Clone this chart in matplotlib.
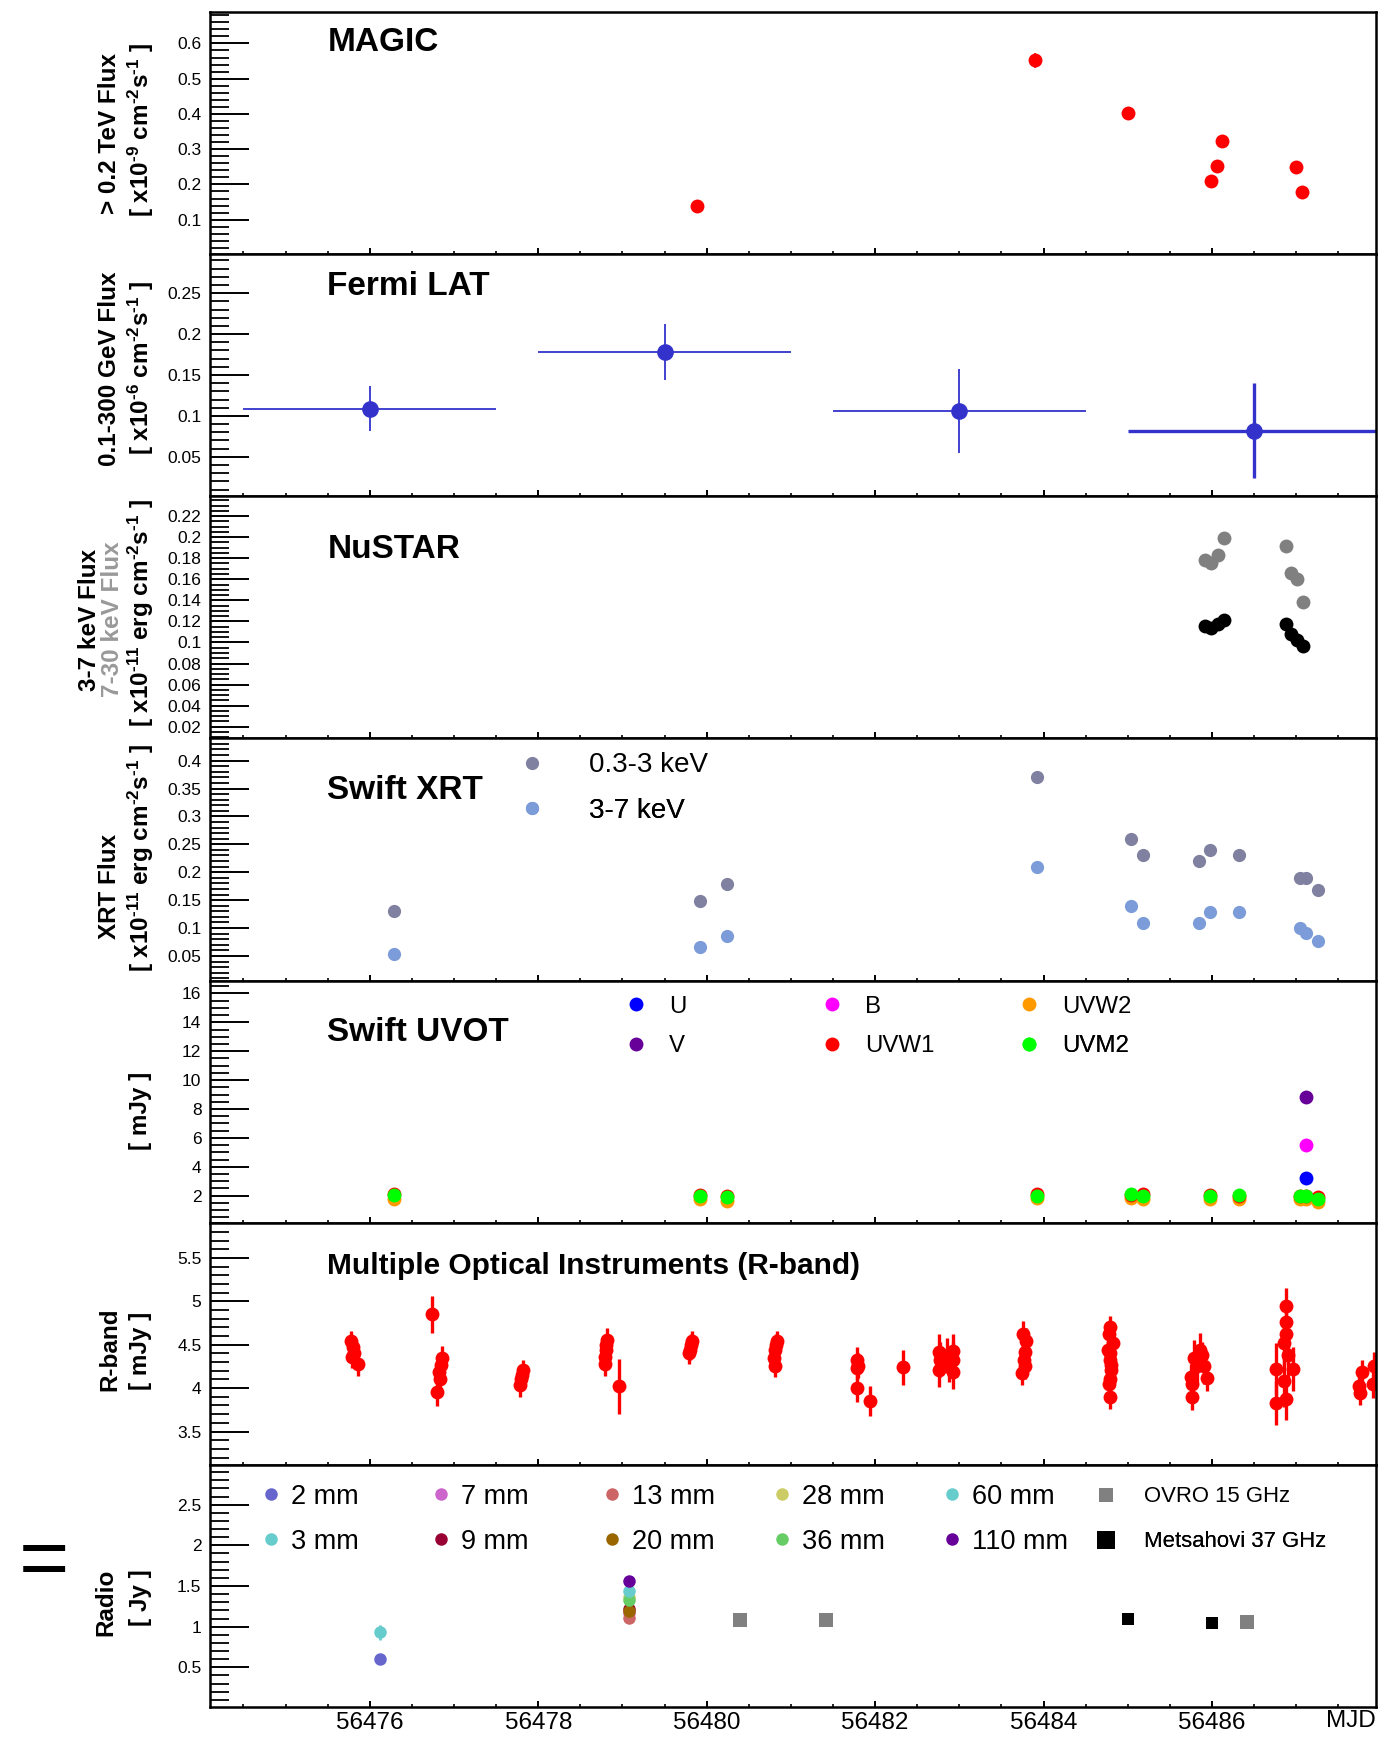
import matplotlib

matplotlib.use("Agg")

import matplotlib.pyplot as plt
from matplotlib.lines import Line2D
from matplotlib.ticker import MultipleLocator, FuncFormatter

plt.rcParams["font.family"] = ["Liberation Sans", "DejaVu Sans"]
plt.rcParams["mathtext.fontset"] = "custom"
plt.rcParams["mathtext.rm"] = "Liberation Sans:bold"
plt.rcParams["mathtext.it"] = "Liberation Sans:bold"
plt.rcParams["mathtext.bf"] = "Liberation Sans:bold"

# ---------------- data ----------------
magic_mjd = [56479.89, 56483.90, 56485.00, 56485.99, 56486.06, 56486.12, 56487.00, 56487.07]
magic_flux = [0.139, 0.552, 0.402, 0.209, 0.253, 0.324, 0.250, 0.179]
magic_err = [0.010, 0.022, 0.010, 0.010, 0.010, 0.010, 0.010, 0.010]

fermi_mjd = [56476.0, 56479.5, 56483.0, 56486.5]
fermi_halfbin = [1.5, 1.5, 1.5, 1.5]
fermi_flux = [0.109, 0.178, 0.106, 0.082]
fermi_err = [0.027, 0.034, 0.051, 0.058]

nustar_mjd = [56485.92, 56485.99, 56486.07, 56486.14, 56486.88, 56486.94, 56487.01, 56487.08]
nustar_3_7 = [0.1154, 0.1142, 0.1180, 0.1211, 0.1173, 0.1085, 0.1022, 0.0968]
nustar_7_30 = [0.1783, 0.1755, 0.1827, 0.1995, 0.1912, 0.1663, 0.1606, 0.1388]

xrt_mjd = [56476.29, 56479.915, 56480.24, 56483.92, 56485.04, 56485.18,
           56485.84, 56485.98, 56486.32, 56487.04, 56487.12, 56487.26]
xrt_soft = [0.130, 0.149, 0.179, 0.370, 0.259, 0.230, 0.220, 0.240, 0.230, 0.190, 0.190, 0.169]
xrt_hard = [0.053, 0.066, 0.085, 0.209, 0.140, 0.109, 0.109, 0.129, 0.129, 0.100, 0.092, 0.076]

uvot_mjd = [56476.29, 56479.915, 56480.24, 56483.92, 56485.04, 56485.18,
            56485.98, 56486.32, 56487.04, 56487.12, 56487.26]
uvot_uvw2 = [1.80, 1.75, 1.65, 1.85, 1.85, 1.75, 1.80, 1.75, 1.80, 1.75, 1.55]
uvot_uvw1 = [2.10, 2.05, 1.95, 2.15, 2.05, 2.10, 2.05, 1.95, 1.95, 2.00, 1.90]
uvot_uvm2 = [2.05, 1.95, 1.90, 2.00, 2.10, 1.95, 2.00, 2.05, 2.00, 2.00, 1.80]
uvot_opt_mjd = [56487.12]
uvot_u = [3.20]
uvot_b = [5.50]
uvot_v = [8.85]

r_mjd = [56475.78, 56475.80, 56475.81, 56475.79, 56475.86,
         56476.74,
         56476.86, 56476.84, 56476.82, 56476.83, 56476.80,
         56477.82, 56477.81, 56477.80, 56477.78,
         56478.82, 56478.81, 56478.80, 56478.79, 56478.79,
         56478.96,
         56479.82, 56479.81, 56479.80, 56479.79,
         56480.83, 56480.82, 56480.81, 56480.80, 56480.81,
         56481.79, 56481.80, 56481.79, 56481.78, 56481.935,
         56482.33,
         56482.76, 56482.77, 56482.76, 56482.85, 56482.92, 56482.92, 56482.93, 56482.88,
         56483.76, 56483.79, 56483.78, 56483.77, 56483.78, 56483.75,
         56484.79, 56484.78, 56484.83, 56484.77, 56484.79, 56484.80, 56484.79,
         56484.78, 56484.79, 56484.80, 56484.79,
         56485.76, 56485.75, 56485.76, 56485.82, 56485.86, 56485.90, 56485.94, 56485.79, 56485.88,
         56486.88, 56486.88, 56486.88, 56486.86, 56486.76, 56486.96, 56486.76, 56486.88,
         56486.86, 56486.90,
         56487.76, 56487.78, 56487.75, 56487.92, 56487.91]
r_flux = [4.54, 4.48, 4.40, 4.36, 4.28,
          4.85,
          4.35, 4.27, 4.19, 4.10, 3.95,
          4.21, 4.15, 4.10, 4.04,
          4.56, 4.50, 4.44, 4.36, 4.28,
          4.02,
          4.54, 4.50, 4.44, 4.40,
          4.54, 4.50, 4.44, 4.35, 4.26,
          4.33, 4.26, 4.23, 4.00, 3.85,
          4.24,
          4.42, 4.33, 4.21, 4.38, 4.43, 4.33, 4.19, 4.27,
          4.62, 4.54, 4.42, 4.33, 4.25, 4.18,
          4.71, 4.63, 4.52, 4.44, 4.33, 4.21, 4.10,
          4.05, 3.90, 4.27, 4.40,
          3.90, 4.13, 4.05, 4.25, 4.44, 4.25, 4.12, 4.35, 4.38,
          4.95, 4.76, 4.62, 4.52, 4.22, 4.22, 3.83, 3.88,
          4.08, 4.38,
          3.94, 4.19, 4.02, 4.26, 4.05]
r_err = [0.12, 0.12, 0.12, 0.13, 0.14,
         0.21,
         0.14, 0.14, 0.14, 0.14, 0.16,
         0.12, 0.12, 0.12, 0.14,
         0.13, 0.13, 0.13, 0.14, 0.14,
         0.32,
         0.12, 0.12, 0.12, 0.12,
         0.12, 0.12, 0.12, 0.13, 0.13,
         0.14, 0.14, 0.14, 0.16, 0.17,
         0.20,
         0.20, 0.20, 0.20, 0.20, 0.20, 0.20, 0.20, 0.20,
         0.15, 0.15, 0.15, 0.15, 0.15, 0.14,
         0.12, 0.12, 0.12, 0.12, 0.12, 0.12, 0.12,
         0.13, 0.14, 0.12, 0.12,
         0.15, 0.15, 0.15, 0.20, 0.20, 0.20, 0.15, 0.20, 0.15,
         0.20, 0.20, 0.20, 0.25, 0.30, 0.25, 0.25, 0.25,
         0.30, 0.25,
         0.14, 0.14, 0.14, 0.16, 0.16]

radio_bands = ["2 mm", "3 mm", "7 mm", "9 mm", "13 mm", "20 mm", "28 mm", "36 mm", "60 mm", "110 mm"]
radio_colors = ["#6666CC", "#66CCCC", "#CC66CC", "#990033", "#CC6666",
                "#996600", "#CCCC66", "#66CC66", "#66CCCC", "#660099"]
radio_mjd = [[56476.12], [56476.12], [56479.08], [56479.08], [56479.08],
             [56479.08], [56479.08], [56479.08], [56479.08], [56479.08]]
radio_flux = [[0.60], [0.93], [1.17], [1.22], [1.11], [1.19], [1.36], [1.33], [1.44], [1.56]]
radio_err = [[0.02], [0.09], [0.02], [0.02], [0.02], [0.02], [0.02], [0.02], [0.02], [0.02]]
ovro_mjd = [56480.39, 56481.42, 56486.42]
ovro_flux = [1.08, 1.08, 1.06]
mets_mjd = [56485.00, 56486.00]
mets_flux = [1.095, 1.05]
mets_err = [0.04, 0.035]

# ---------------- layout ----------------
W, H = 1391, 1737
fig = plt.figure(figsize=(W / 100, H / 100), dpi=100)
left_px, right_px = 209.8, 1376.2
top_px, panel_px = 11.7, 242.2

XMIN, XMAX = 56474.1, 56487.95


def fmt_g(v, pos):
    return "%g" % round(v, 6)


def make_panel(i, ylim, major, minor):
    t = top_px + i * panel_px
    ax = fig.add_axes([left_px / W, 1 - (t + panel_px) / H, (right_px - left_px) / W, panel_px / H])
    ax.set_xlim(XMIN, XMAX)
    ax.set_ylim(*ylim)
    ax.xaxis.set_major_locator(MultipleLocator(2))
    ax.xaxis.set_minor_locator(MultipleLocator(0.5))
    ax.yaxis.set_major_locator(MultipleLocator(major))
    ax.yaxis.set_minor_locator(MultipleLocator(minor))
    ax.yaxis.set_major_formatter(FuncFormatter(fmt_g))
    ax.tick_params(axis="y", which="major", direction="in", length=28, width=1.4,
                   labelsize=12.5, pad=6, right=False)
    ax.tick_params(axis="y", which="minor", direction="in", length=13.5, width=1.3, right=False)
    ax.tick_params(axis="x", which="major", direction="in", length=4.5, width=1.4,
                   labelbottom=False, top=False)
    ax.tick_params(axis="x", which="minor", direction="in", length=2.3, width=1.2, top=False)
    for s in ax.spines.values():
        s.set_linewidth(1.8)
    return ax


def title(ax, text, ybase, size=24):
    ax.text(0.1007, ybase, text, transform=ax.transAxes, fontsize=size,
            fontweight="bold", ha="left", va="baseline")


def key(ax, handle, label, x, y, gap_px, size):
    leg = ax.legend([handle], [label], loc="center left", bbox_to_anchor=(x, y),
                    bbox_transform=ax.transAxes, frameon=False, handlelength=0,
                    handletextpad=gap_px * 0.72 / size, borderpad=0, borderaxespad=0,
                    fontsize=size, numpoints=1)
    ax.add_artist(leg)


def ylab(x_px, y_px, text, color="black"):
    fig.text(x_px / W, 1 - y_px / H, text, rotation=90, ha="center", va="center",
             fontsize=17.5, fontweight="bold", color=color)


def dot(color, ms=10, marker="o"):
    return Line2D([], [], ls="none", marker=marker, color=color, ms=ms, mew=0)


# MAGIC
ax1 = make_panel(0, (0.003, 0.69), 0.1, 0.02)
ax1.errorbar(magic_mjd, magic_flux, yerr=magic_err, fmt="o", color="#FF0000",
             ms=10, mew=0, elinewidth=1.2, capsize=0)
title(ax1, "MAGIC", 0.837)

# Fermi LAT
ax2 = make_panel(1, (0.002, 0.298), 0.05, 0.01)
ax2.errorbar(fermi_mjd[:3], fermi_flux[:3], xerr=fermi_halfbin[:3], yerr=fermi_err[:3],
             fmt="o", color="#3333CC", ms=12, mew=0, elinewidth=1.3, capsize=0)
ax2.errorbar(fermi_mjd[3:], fermi_flux[3:], xerr=fermi_halfbin[3:], yerr=fermi_err[3:],
             fmt="o", color="#3333CC", ms=12, mew=0, elinewidth=2.4, capsize=0)
title(ax2, "Fermi LAT", 0.829)

# NuSTAR
ax3 = make_panel(2, (0.009, 0.239), 0.02, 0.005)
ax3.plot(nustar_mjd, nustar_7_30, "o", color="#808080", ms=10, mew=0)
ax3.plot(nustar_mjd, nustar_3_7, "o", color="black", ms=10, mew=0)
title(ax3, "NuSTAR", 0.746)

# Swift XRT
ax4 = make_panel(3, (0.006, 0.44), 0.05, 0.01)
ax4.plot(xrt_mjd, xrt_soft, "o", color="#8080A0", ms=9.5, mew=0)
ax4.plot(xrt_mjd, xrt_hard, "o", color="#7B9CD8", ms=9.5, mew=0)
title(ax4, "Swift XRT", 0.751)
key(ax4, dot("#8080A0", 9.5), "0.3-3 keV", 0.276, 0.8885, 57, 20)
key(ax4, dot("#7B9CD8", 9.5), "3-7 keV", 0.276, 0.7011, 57, 20)

# Swift UVOT
ax5 = make_panel(4, (0.13, 16.9), 2, 0.5)
ax5.plot(uvot_mjd, uvot_uvw2, "o", color="#FF9900", ms=10, mew=0)
ax5.plot(uvot_mjd, uvot_uvw1, "o", color="#FF0000", ms=10, mew=0)
ax5.plot(uvot_mjd, uvot_uvm2, "o", color="#00FF00", ms=10, mew=0)
ax5.plot(uvot_opt_mjd, uvot_u, "o", color="#0000FF", ms=10, mew=0)
ax5.plot(uvot_opt_mjd, uvot_b, "o", color="#FF00FF", ms=10, mew=0)
ax5.plot(uvot_opt_mjd, uvot_v, "o", color="#660099", ms=10, mew=0)
title(ax5, "Swift UVOT", 0.749)
uv_keys = [("U", "#0000FF"), ("V", "#660099"), ("B", "#FF00FF"),
           ("UVW1", "#FF0000"), ("UVW2", "#FF9900"), ("UVM2", "#00FF00")]
uv_cols = [0.3651, 0.5332, 0.7022]
for k, (lab, c) in enumerate(uv_keys):
    key(ax5, dot(c, 10), lab, uv_cols[k // 2], [0.8925, 0.729][k % 2], 33, 17.3)

# Optical R-band
ax6 = make_panel(5, (3.115, 5.908), 0.5, 0.1)
ax6.errorbar(r_mjd, r_flux, yerr=r_err, fmt="o", color="#FF0000", ms=10, mew=0,
             elinewidth=2.4, capsize=0)
title(ax6, "Multiple Optical Instruments (R-band)", 0.789, size=21.5)

# Radio
ax7 = make_panel(6, (0.01, 2.99), 0.5, 0.1)
for band, c, t, f, e in zip(radio_bands, radio_colors, radio_mjd, radio_flux, radio_err):
    ax7.errorbar(t, f, yerr=e, fmt="o", color=c, ms=9, mew=0, elinewidth=2, capsize=0)
ax7.plot(ovro_mjd, ovro_flux, "s", color="#808080", ms=10, mew=0)
ax7.errorbar(mets_mjd, mets_flux, yerr=mets_err, fmt="s", color="black", ms=8.5, mew=0,
             elinewidth=2, capsize=0)
radio_cols = [0.0525, 0.1982, 0.3445, 0.4902, 0.6367]
radio_rows = [0.868, 0.682]
for k, (band, c) in enumerate(zip(radio_bands, radio_colors)):
    key(ax7, dot(c, 9), band, radio_cols[k // 2], radio_rows[k % 2], 20, 19.5)
key(ax7, dot("#808080", 10, "s"), "OVRO 15 GHz", 0.7681, radio_rows[0], 38, 15.9)
key(ax7, dot("black", 12.5, "s"), "Metsahovi 37 GHz", 0.7681, radio_rows[1], 38, 15.9)

ax7.tick_params(axis="x", which="major", labelbottom=True, labelsize=17.5, pad=3.5)
ax7.xaxis.set_major_formatter(FuncFormatter(lambda v, p: "%d" % round(v)))
fig.text(1376 / W, 1 - 1721 / H, "MJD", fontsize=17.5, ha="right", va="center")

# axis titles (hyphen instead of the wide math minus, as in the original)
ylab(109.4, 134, "> 0.2 TeV Flux")
ylab(140.6, 130, r"[ x10$^{\text{-}9}$ cm$^{\text{-}2}$s$^{\text{-}1}$ ]")
ylab(109.4, 369, "0.1-300 GeV Flux")
ylab(140.6, 368, r"[ x10$^{\text{-}6}$ cm$^{\text{-}2}$s$^{\text{-}1}$ ]")
ylab(89.3, 620, "3-7 keV Flux")
ylab(112.0, 619, "7-30 keV Flux", color="#999999")
ylab(140.6, 613, r"[ x10$^{\text{-}11}$ erg cm$^{\text{-}2}$s$^{\text{-}1}$ ]")
ylab(109.4, 886, "XRT Flux")
ylab(140.6, 858, r"[ x10$^{\text{-}11}$ erg cm$^{\text{-}2}$s$^{\text{-}1}$ ]")
ylab(140.6, 1111, "[ mJy ]")
ylab(109.4, 1349, "R-band")
ylab(140.6, 1351, "[ mJy ]")
ylab(106.0, 1602, "Radio")
ylab(140.0, 1598, "[ Jy ]")
fig.text(44 / W, 1 - 1555 / H, "=", fontsize=62, ha="center", va="center_baseline")

plt.savefig("out.png", dpi=100)
plt.close()
